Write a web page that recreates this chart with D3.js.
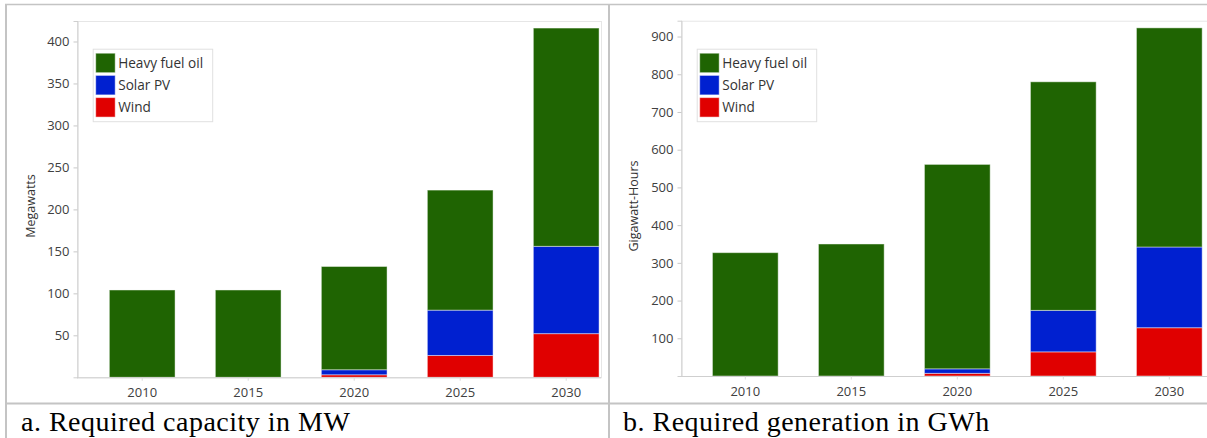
<!DOCTYPE html>
<html>
<head>
<meta charset="utf-8">
<script src="https://cdn.jsdelivr.net/npm/d3@7"></script>
<style>
  html, body { margin: 0; padding: 0; background: #fff; }
  svg { display: block; }
</style>
</head>
<body>
<svg id="chart" width="1207" height="438"></svg>
<script>
// ---- Data ----
const years = ["2010", "2015", "2020", "2025", "2030"];
const seriesNames = ["Heavy fuel oil", "Solar PV", "Wind"];
const seriesColors = ["#1f6402", "#0020d0", "#e00000"];

// Panel a: Required capacity (MW)
const capWind  = [0, 0, 3, 26, 52];
const capSolar = [0, 0, 6, 54, 104];
const capHFO   = [104, 104, 123, 143, 260];
const capTicks = [50, 100, 150, 200, 250, 300, 350, 400];

// Panel b: Required generation (GWh)
const genWind  = [0, 0, 7, 64, 128];
const genSolar = [0, 0, 12, 110, 214];
const genHFO   = [327, 350, 542, 606, 581];
const genTicks = [100, 200, 300, 400, 500, 600, 700, 800, 900];

const captions = ["a. Required capacity in MW", "b. Required generation in GWh"];
const yTitles = ["Megawatts", "Gigawatt-Hours"];

const svg = d3.select("#chart");
const uiFont = "'Open Sans', 'Noto Sans', sans-serif";

// ---- Table frame ----
const frame = svg.append("g").attr("stroke", "#c4c4c4").attr("fill", "none");
frame.append("line").attr("x1", 5).attr("x2", 1207).attr("y1", 4.5).attr("y2", 4.5).attr("stroke-width", 1.5);
frame.append("line").attr("x1", 6).attr("x2", 6).attr("y1", 4).attr("y2", 438).attr("stroke-width", 2);
frame.append("line").attr("x1", 609).attr("x2", 609).attr("y1", 4).attr("y2", 438).attr("stroke-width", 2);
frame.append("line").attr("x1", 5).attr("x2", 1207).attr("y1", 403.5).attr("y2", 403.5).attr("stroke-width", 2);

function drawPanel(cfg) {
  const g = svg.append("g");
  const { left, right, top, bottom, bandRange, yMax, ticks, wind, solar, hfo, title, caption, captionX, titleX } = cfg;

  // plot area frame
  g.append("rect")
    .attr("x", left + 0.5).attr("y", top + 0.5)
    .attr("width", right - left).attr("height", bottom - top)
    .attr("fill", "none").attr("stroke", "#e6e6e6");

  const x = d3.scaleBand().domain(years).range(bandRange).paddingInner(0.38).paddingOuter(0.19);
  const y = d3.scaleLinear().domain([0, yMax]).range([bottom, top]);

  const rows = years.map((yr, i) => ({ year: yr, "Wind": wind[i], "Solar PV": solar[i], "Heavy fuel oil": hfo[i] }));
  const stack = d3.stack().keys(["Wind", "Solar PV", "Heavy fuel oil"]);
  const layers = stack(rows);
  const color = d3.scaleOrdinal().domain(seriesNames).range(seriesColors);

  g.selectAll("g.layer").data(layers).join("g")
    .attr("class", "layer")
    .attr("fill", d => color(d.key))
    .selectAll("rect").data(d => d.filter(p => p[1] - p[0] > 0)).join("rect")
    .attr("x", d => x(d.data.year))
    .attr("width", x.bandwidth())
    .attr("y", d => y(d[1]))
    .attr("height", d => y(d[0]) - y(d[1]))
    .attr("stroke", "rgba(255,255,255,0.45)")
    .attr("stroke-width", 1);

  // y axis
  const yAxis = d3.axisLeft(y).tickValues(ticks).tickSize(4).tickPadding(4);
  const ya = g.append("g").attr("transform", `translate(${left + 0.5},0)`).call(yAxis);
  ya.select(".domain").attr("stroke", "#cfcfcf");
  ya.selectAll(".tick line").attr("stroke", "#c8c8c8");
  ya.selectAll(".tick text").attr("fill", "#404040").style("font-family", uiFont).style("font-size", "13px");

  // x axis
  const xAxis = d3.axisBottom(x).tickSize(3).tickPadding(7);
  const xa = g.append("g").attr("transform", `translate(0,${bottom + 0.5})`).call(xAxis);
  xa.select(".domain").attr("stroke", "#cfcfcf").attr("d", `M${left},0H${right}`);
  xa.selectAll(".tick line").attr("stroke", "#dddddd");
  xa.selectAll(".tick text").attr("fill", "#404040").style("font-family", uiFont).style("font-size", "13px");

  // y title
  g.append("text")
    .attr("transform", `translate(${titleX},206) rotate(-90)`)
    .attr("text-anchor", "middle")
    .attr("fill", "#333")
    .style("font-family", uiFont).style("font-size", "12.5px")
    .text(title);

  // legend
  const lx = left + 15.7, ly = 48.7;
  const lg = g.append("g");
  lg.append("rect").attr("x", lx + 0.5).attr("y", ly + 0.5).attr("width", 119.5).attr("height", 72.5)
    .attr("fill", "#fff").attr("stroke", "#e0e0e0");
  seriesNames.forEach((s, i) => {
    lg.append("rect").attr("x", lx + 3).attr("y", ly + 4.5 + i * 22.2).attr("width", 19.5).attr("height", 19.5)
      .attr("fill", color(s)).attr("stroke", "rgba(255,255,255,0.5)");
    lg.append("text").attr("x", lx + 25.5).attr("y", ly + 19 + i * 22.2)
      .attr("fill", "#333").style("font-family", uiFont).style("font-size", "13.6px")
      .text(s);
  });

  // caption
  g.append("text").attr("x", captionX).attr("y", 431)
    .attr("fill", "#000").style("font-family", "'Liberation Serif', 'Times New Roman', serif")
    .style("font-size", "28px").style("letter-spacing", "0.5px")
    .text(caption);
}

drawPanel({
  left: 77, right: 601, top: 21, bottom: 377.3,
  bandRange: [89.2, 619.2], yMax: 424.4, ticks: capTicks,
  wind: capWind, solar: capSolar, hfo: capHFO,
  title: yTitles[0], caption: captions[0], captionX: 21, titleX: 35
});

drawPanel({
  left: 681, right: 1207, top: 20.7, bottom: 376,
  bandRange: [692.3, 1222.3], yMax: 942, ticks: genTicks,
  wind: genWind, solar: genSolar, hfo: genHFO,
  title: yTitles[1], caption: captions[1], captionX: 623, titleX: 638
});
</script>
</body>
</html>
